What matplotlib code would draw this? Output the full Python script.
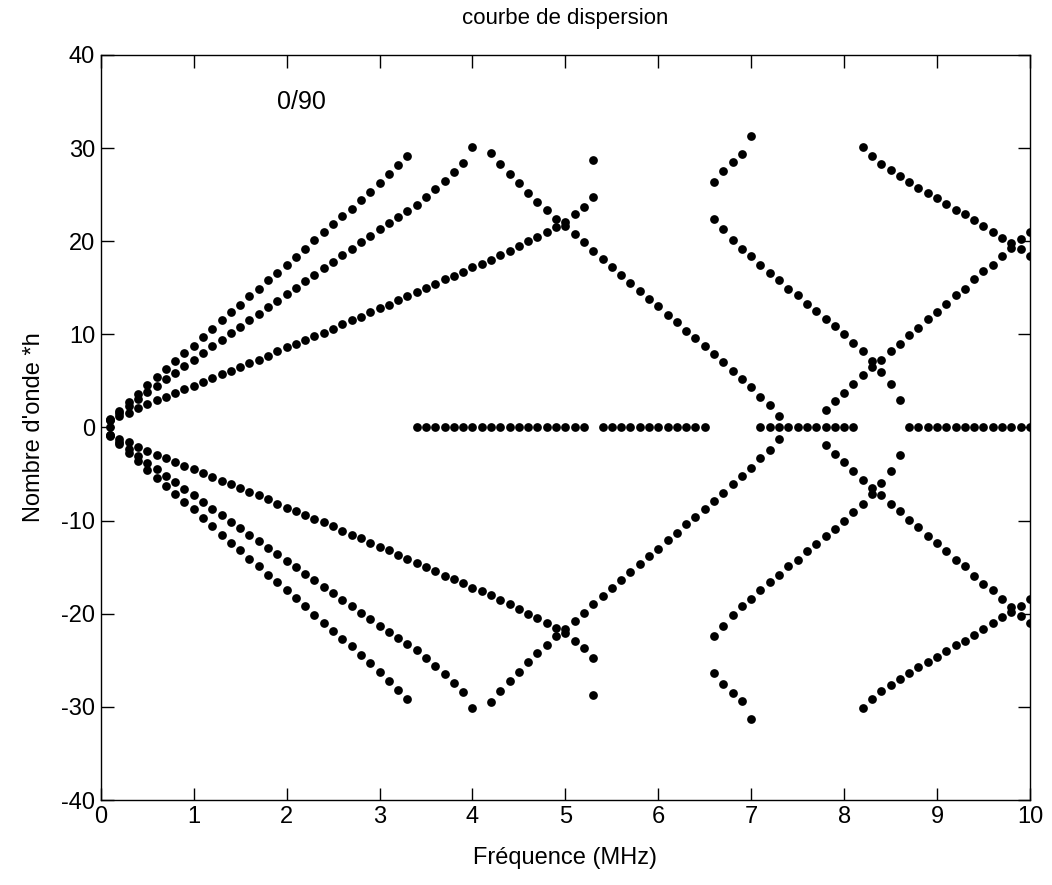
import numpy as np
import matplotlib.pyplot as plt

plt.rcParams['font.family'] = ['Liberation Sans', 'DejaVu Sans']
plt.rcParams['axes.unicode_minus'] = False

# frequency (MHz) and wavenumber*h for each branch (upper half, lower half is -k)
fA = [0.1, 0.2, 0.3, 0.4, 0.5, 0.6, 0.7, 0.8, 0.9, 1.0, 1.1, 1.2, 1.3, 1.4, 1.5, 1.6, 1.7,
      1.8, 1.9, 2.0, 2.1, 2.2, 2.3, 2.4, 2.5, 2.6, 2.7, 2.8, 2.9, 3.0, 3.1, 3.2, 3.3]
kA = [0.9, 1.8, 2.7, 3.6, 4.6, 5.4, 6.3, 7.1, 8.0, 8.8, 9.7, 10.6, 11.5, 12.4, 13.2, 14.1, 14.9,
      15.8, 16.6, 17.5, 18.3, 19.2, 20.1, 21.0, 21.8, 22.7, 23.5, 24.4, 25.3, 26.2, 27.2, 28.2, 29.2]

fB = [0.1, 0.2, 0.3, 0.4, 0.5, 0.6, 0.7, 0.8, 0.9, 1.0, 1.1, 1.2, 1.3, 1.4, 1.5, 1.6, 1.7,
      1.8, 1.9, 2.0, 2.1, 2.2, 2.3, 2.4, 2.5, 2.6, 2.7, 2.8, 2.9, 3.0, 3.1, 3.2, 3.3, 3.4,
      3.5, 3.6, 3.7, 3.8, 3.9, 4.0]
kB = [0.8, 1.6, 2.3, 3.1, 3.8, 4.5, 5.2, 5.9, 6.6, 7.3, 8.0, 8.7, 9.4, 10.1, 10.8, 11.5, 12.2,
      12.9, 13.6, 14.3, 15.0, 15.7, 16.4, 17.1, 17.8, 18.5, 19.2, 19.9, 20.6, 21.3, 22.0, 22.6, 23.2, 23.9,
      24.7, 25.6, 26.5, 27.4, 28.4, 30.1]

fC = [0.1, 0.2, 0.3, 0.4, 0.5, 0.6, 0.7, 0.8, 0.9, 1.0, 1.1, 1.2, 1.3, 1.4, 1.5, 1.6, 1.7,
      1.8, 1.9, 2.0, 2.1, 2.2, 2.3, 2.4, 2.5, 2.6, 2.7, 2.8, 2.9, 3.0, 3.1, 3.2, 3.3, 3.4,
      3.5, 3.6, 3.7, 3.8, 3.9, 4.0, 4.1, 4.2, 4.3, 4.4, 4.5, 4.6, 4.7, 4.8, 4.9, 5.0, 5.1,
      5.2, 5.3]
kC = [0.8, 1.2, 1.6, 2.1, 2.5, 2.9, 3.3, 3.7, 4.1, 4.5, 4.9, 5.3, 5.7, 6.1, 6.5, 6.9, 7.3,
      7.7, 8.2, 8.6, 9.0, 9.4, 9.8, 10.2, 10.6, 11.1, 11.5, 11.9, 12.4, 12.8, 13.2, 13.7, 14.1, 14.5,
      15.0, 15.4, 15.9, 16.3, 16.7, 17.2, 17.6, 18.0, 18.5, 19.0, 19.5, 20.0, 20.5, 21.0, 21.5, 22.1, 22.9,
      23.7, 24.7]

fD = [4.2, 4.3, 4.4, 4.5, 4.6, 4.7, 4.8, 4.9, 5.0, 5.1, 5.2, 5.3, 5.4, 5.5, 5.6, 5.7, 5.8,
      5.9, 6.0, 6.1, 6.2, 6.3, 6.4, 6.5, 6.6, 6.7, 6.8, 6.9, 7.0, 7.1, 7.2, 7.3, 5.3]
kD = [29.5, 28.3, 27.2, 26.2, 25.2, 24.2, 23.3, 22.4, 21.6, 20.8, 19.9, 19.0, 18.1, 17.2, 16.4, 15.5, 14.7,
      13.8, 13.0, 12.1, 11.3, 10.4, 9.6, 8.7, 7.9, 7.0, 6.1, 5.2, 4.3, 3.3, 2.4, 1.2, 28.7]

fG = [6.6, 6.7, 6.8, 6.9, 7.0, 7.1, 7.2, 7.3, 7.4, 7.5, 7.6, 7.7, 7.8, 7.9, 8.0, 8.1, 8.2,
      8.3, 8.4, 8.5, 8.6]
kG = [22.4, 21.3, 20.1, 19.2, 18.4, 17.5, 16.6, 15.8, 14.9, 14.2, 13.3, 12.5, 11.7, 10.9, 10.0, 9.1, 8.2,
      7.1, 6.0, 4.7, 3.0]

fH = [6.6, 6.7, 6.8, 6.9, 7.0]
kH = [26.4, 27.5, 28.5, 29.4, 31.3]

fE = [7.8, 7.9, 8.0, 8.1, 8.2, 8.3, 8.4, 8.5, 8.6, 8.7, 8.8, 8.9, 9.0, 9.1, 9.2, 9.3, 9.4,
      9.5, 9.6, 9.7, 9.8, 9.9, 10.0]
kE = [1.9, 2.8, 3.7, 4.7, 5.6, 6.5, 7.3, 8.2, 9.0, 9.9, 10.7, 11.7, 12.4, 13.3, 14.2, 14.9, 15.9,
      16.8, 17.5, 18.4, 19.3, 20.2, 21.0]

fF = [8.2, 8.3, 8.4, 8.5, 8.6, 8.7, 8.8, 8.9, 9.0, 9.1, 9.2, 9.3, 9.4, 9.5, 9.6, 9.7, 9.8,
      9.9, 10.0]
kF = [30.1, 29.2, 28.3, 27.6, 27.0, 26.4, 25.7, 25.2, 24.6, 24.0, 23.4, 22.9, 22.3, 21.6, 21.0, 20.4, 19.8,
      19.2, 18.4]

# real roots k = 0
f0 = [3.4, 3.5, 3.6, 3.7, 3.8, 3.9, 4.0, 4.1, 4.2, 4.3, 4.4, 4.5, 4.6, 4.7, 4.8, 4.9, 5.0,
      5.1, 5.2, 5.4, 5.5, 5.6, 5.7, 5.8, 5.9, 6.0, 6.1, 6.2, 6.3, 6.4, 6.5,
      7.1, 7.2, 7.3, 7.4, 7.5, 7.6, 7.7, 7.8, 7.9, 8.0, 8.1,
      8.7, 8.8, 8.9, 9.0, 9.1, 9.2, 9.3, 9.4, 9.5, 9.6, 9.7, 9.8, 9.9, 10.0, 0.1]

freqs = np.concatenate([fA, fB, fC, fD, fG, fH, fE, fF])
kh = np.concatenate([kA, kB, kC, kD, kG, kH, kE, kF])

fig = plt.figure(figsize=(10.52, 8.85), dpi=100)
ax = fig.add_axes([0.0958, 0.096, 0.9832 - 0.0958 - 0.0042, 0.9379 - 0.096])

mk = dict(linestyle='none', marker='o', markersize=6.3, color='k', markeredgewidth=0)
ax.plot(freqs, kh, **mk)
ax.plot(freqs, -kh, **mk)
ax.plot(f0, np.zeros(len(f0)), **mk)

ax.set_xlim(0, 10)
ax.set_ylim(-40, 40)
ax.set_xticks(range(0, 11))
ax.set_yticks(range(-40, 41, 10))
ax.tick_params(direction='in', length=9, width=1, top=True, right=True, labelsize=17, pad=4)
for s in ax.spines.values():
    s.set_linewidth(1)

ax.set_title('courbe de dispersion', fontsize=16, pad=22)
ax.set_xlabel('Fréquence (MHz)', fontsize=17, labelpad=14)
ax.set_ylabel("Nombre d'onde *h", fontsize=17, labelpad=12)
ax.text(1.9, 35, '0/90', fontsize=18, va='center')

fig.savefig('out.png', dpi=100)
